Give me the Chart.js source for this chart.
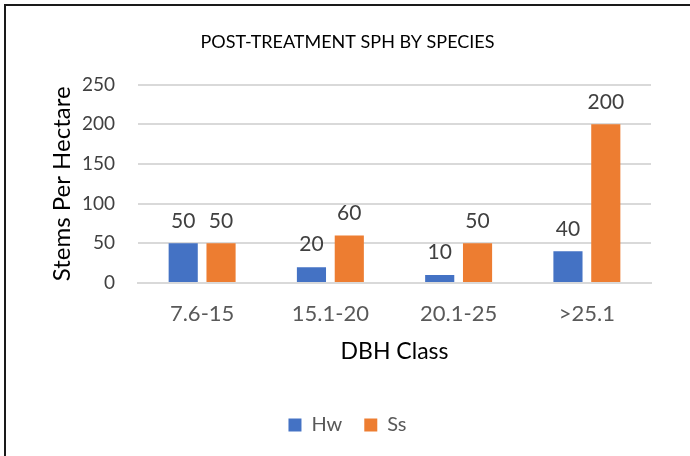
<!DOCTYPE html>
<html>
<head>
<meta charset="utf-8">
<script src="https://cdn.jsdelivr.net/npm/chart.js@4"></script>
<style>
  html, body { margin: 0; padding: 0; background: #fff; }
  #marco {
    position: absolute; left: 4px; top: 4px; width: 686px; height: 452px;
    border-left: 2px solid #1a1a1a; border-top: 2px solid #1a1a1a;
  }
  #grafico { position: absolute; left: -6px; top: -6px; }
</style>
</head>
<body>
<div id="marco"><canvas id="grafico" width="690" height="456"></canvas></div>
<script>
// Datos del gráfico
var clases = ['7.6-15', '15.1-20', '20.1-25', '>25.1'];
var valoresHw = [50, 20, 10, 40];
var valoresSs = [50, 60, 50, 200];
var ticksY = [0, 50, 100, 150, 200, 250];

var fuente = 'Lato, "Open Sans", sans-serif';

// Etiquetas de valor encima de cada barra
var etiquetasPlugin = {
  id: 'etiquetas',
  afterDatasetsDraw: function(chart) {
    var ctx = chart.ctx;
    ctx.save();
    ctx.font = '21px ' + fuente;
    ctx.fillStyle = '#404040';
    ctx.textAlign = 'center';
    ctx.textBaseline = 'bottom';
    chart.data.datasets.forEach(function(ds, i) {
      chart.getDatasetMeta(i).data.forEach(function(bar, j) {
        ctx.fillText(ds.data[j], bar.x, bar.y - 12);
      });
    });
    ctx.restore();
  }
};

new Chart(document.getElementById('grafico'), {
  type: 'bar',
  data: {
    labels: clases,
    datasets: [
      { label: 'Hw', data: valoresHw, backgroundColor: '#4472C4' },
      { label: 'Ss', data: valoresSs, backgroundColor: '#ED7D31' }
    ]
  },
  options: {
    responsive: false,
    animation: false,
    maintainAspectRatio: false,
    categoryPercentage: 0.59,
    barPercentage: 0.77,
    layout: { padding: { left: 44, right: 39, top: 31, bottom: 11 } },
    plugins: {
      title: {
        display: true,
        text: 'POST-TREATMENT SPH BY SPECIES',
        color: '#000',
        font: { family: fuente, size: 18, weight: 'normal' },
        padding: { top: 0, bottom: 32 }
      },
      legend: {
        position: 'bottom',
        labels: {
          color: '#595959',
          font: { family: fuente, size: 20 },
          boxWidth: 13,
          boxHeight: 13,
          padding: 22
        }
      },
      tooltip: { enabled: false }
    },
    scales: {
      x: {
        grid: { display: false },
        border: { color: '#D9D9D9', width: 2 },
        ticks: { color: '#595959', font: { family: fuente, size: 22 }, padding: 10 },
        title: {
          display: true,
          text: 'DBH Class',
          color: '#000',
          font: { family: fuente, size: 23 },
          padding: { top: 0, bottom: 28 }
        }
      },
      y: {
        min: 0,
        max: 250,
        afterBuildTicks: function(scale) {
          scale.ticks = ticksY.map(function(v) { return { value: v }; });
        },
        afterFit: function(scale) {
          scale.width = 94;
        },
        grid: { color: '#D9D9D9', lineWidth: 2, drawTicks: false },
        border: { display: false },
        ticks: { color: '#404040', font: { family: fuente, size: 19 }, padding: 23 },
        title: {
          display: true,
          text: 'Stems Per Hectare',
          color: '#000',
          font: { family: fuente, size: 24 },
          padding: { bottom: 6 }
        }
      }
    }
  },
  plugins: [etiquetasPlugin]
});
</script>
</body>
</html>
